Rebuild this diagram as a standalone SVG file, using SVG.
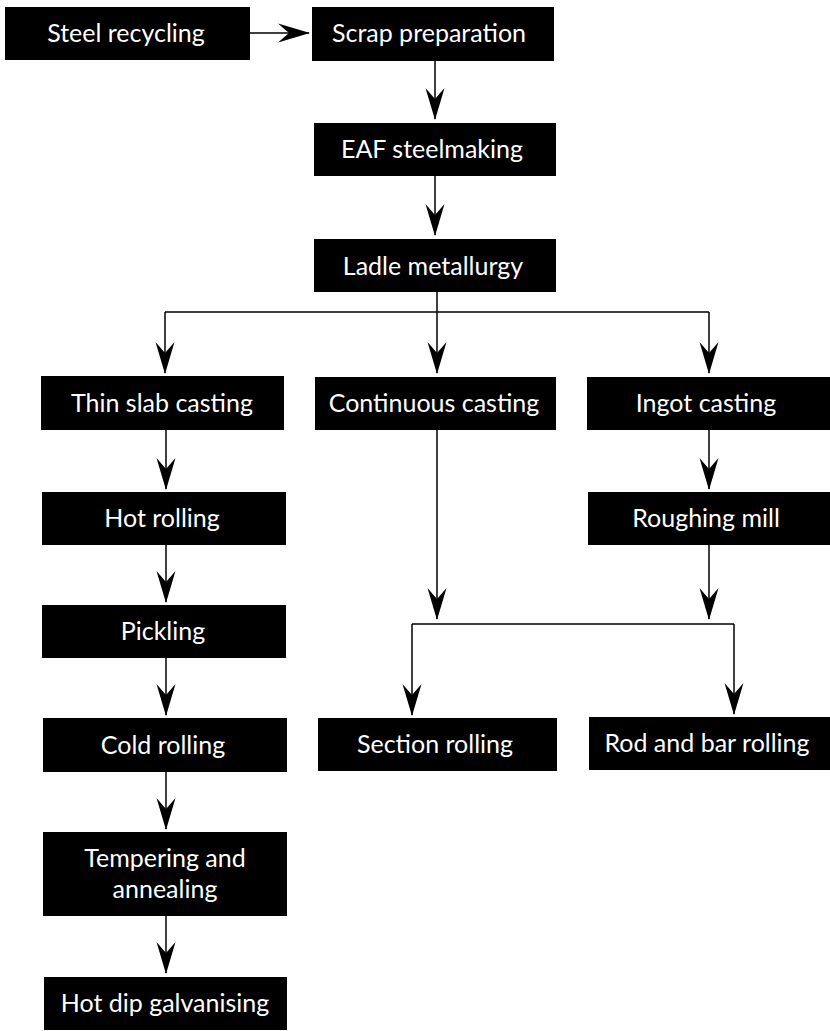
<svg xmlns="http://www.w3.org/2000/svg" width="830" height="1031" viewBox="0 0 830 1031">
<style>
.box{fill:#000}
.t{fill:#fff;font-family:Lato,"Open Sans","DejaVu Sans",sans-serif;font-size:25px;text-anchor:middle}
.ln{fill:none;stroke:#000;stroke-width:1.5}
.ar{fill:none;stroke:#000;stroke-width:1.5;marker-end:url(#ah)}
</style>
<defs>
<marker id="ah" markerUnits="userSpaceOnUse" markerWidth="32" markerHeight="20" viewBox="0 0 32 20" refX="31" refY="10" orient="auto">
<path d="M0,0.5 L32,10 L0,19.5 L11,10 Z" fill="#000"/>
</marker>
</defs>
<rect width="830" height="1031" fill="#fff"/>
<g id="connectors">
<path class="ar" d="M250,33 H309"/>
<path class="ar" d="M435,60 V119"/>
<path class="ar" d="M435,176 V235"/>
<path class="ln" d="M437,292 V312 M165,312 H709"/>
<path class="ar" d="M165,312 V373"/>
<path class="ar" d="M437,312 V373"/>
<path class="ar" d="M709,312 V373"/>
<path class="ar" d="M166,430 V489"/>
<path class="ar" d="M166,545 V602"/>
<path class="ar" d="M166,658 V715"/>
<path class="ar" d="M166,772 V829"/>
<path class="ar" d="M166,916 V973"/>
<path class="ar" d="M709,430 V489"/>
<path class="ar" d="M437,430 V619"/>
<path class="ar" d="M709,545 V619"/>
<path class="ln" d="M412,624 H734"/>
<path class="ar" d="M412,624 V715"/>
<path class="ar" d="M734,624 V714"/>
</g>
<g id="steel-recycling"><rect class="box" x="5" y="7" width="245" height="53"/><text class="t" x="126" y="42">Steel recycling</text></g>
<g id="scrap-preparation"><rect class="box" x="312" y="7" width="242" height="54"/><text class="t" x="429" y="42">Scrap preparation</text></g>
<g id="eaf-steelmaking"><rect class="box" x="314" y="123" width="242" height="53"/><text class="t" x="432" y="158">EAF steelmaking</text></g>
<g id="ladle-metallurgy"><rect class="box" x="314" y="239" width="242" height="53"/><text class="t" x="433" y="275">Ladle metallurgy</text></g>
<g id="thin-slab-casting"><rect class="box" x="41" y="376" width="243" height="54"/><text class="t" x="162" y="412">Thin slab casting</text></g>
<g id="continuous-casting"><rect class="box" x="315" y="377" width="241" height="53"/><text class="t" x="434" y="412">Continuous casting</text></g>
<g id="ingot-casting"><rect class="box" x="587" y="377" width="250" height="53"/><text class="t" x="706" y="412">Ingot casting</text></g>
<g id="hot-rolling"><rect class="box" x="42" y="492" width="244" height="53"/><text class="t" x="162" y="527">Hot rolling</text></g>
<g id="roughing-mill"><rect class="box" x="588" y="492" width="250" height="53"/><text class="t" x="706" y="527">Roughing mill</text></g>
<g id="pickling"><rect class="box" x="42" y="605" width="244" height="53"/><text class="t" x="163" y="640">Pickling</text></g>
<g id="cold-rolling"><rect class="box" x="43" y="718" width="244" height="54"/><text class="t" x="163" y="754">Cold rolling</text></g>
<g id="section-rolling"><rect class="box" x="318" y="718" width="239" height="53"/><text class="t" x="435" y="753">Section rolling</text></g>
<g id="rod-and-bar-rolling"><rect class="box" x="589" y="717" width="250" height="53"/><text class="t" x="707" y="752">Rod and bar rolling</text></g>
<g id="tempering-and-annealing"><rect class="box" x="43" y="832" width="244" height="84"/><text class="t" x="165" y="867">Tempering and</text><text class="t" x="165" y="898">annealing</text></g>
<g id="hot-dip-galvanising"><rect class="box" x="44" y="977" width="243" height="53"/><text class="t" x="165" y="1012">Hot dip galvanising</text></g>
</svg>
